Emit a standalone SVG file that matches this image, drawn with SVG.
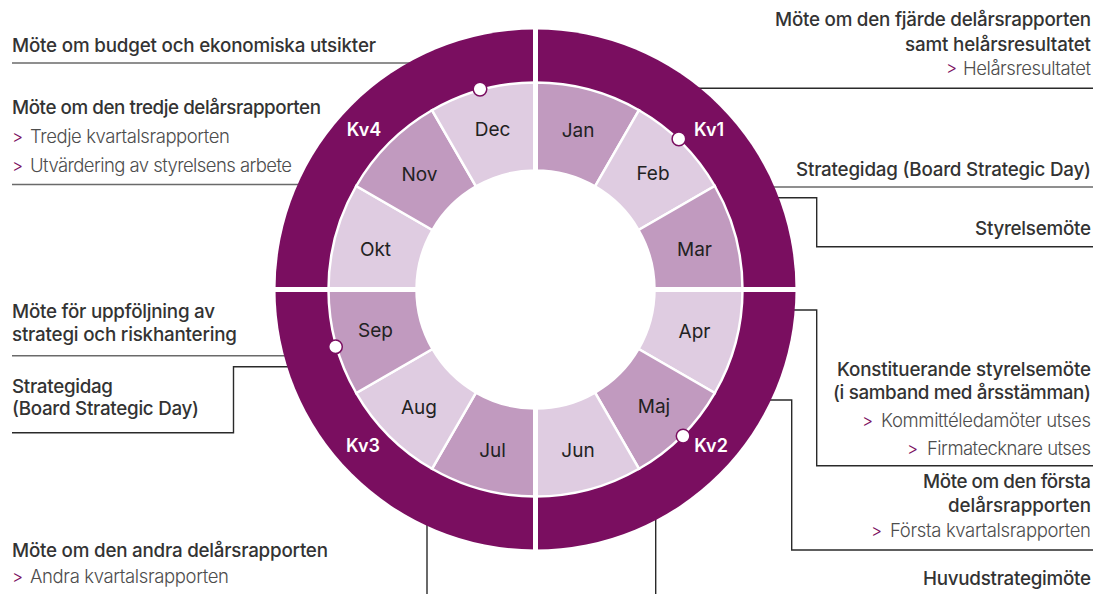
<svg xmlns="http://www.w3.org/2000/svg" width="1095" height="594" viewBox="0 0 1095 594">
<style>
text { font-family: Inter, "Liberation Sans", Arial, sans-serif; }
.h { font-size: 18.8px; font-weight: 500; fill: #333333; }
.s { font-size: 18.5px; font-weight: 300; fill: #4d4d4d; }
.ch { font-size: 17px; font-weight: 300; fill: #7a0e60; }
.r { text-anchor: end; }
.m { font-size: 19px; font-weight: 400; fill: #222222; text-anchor: middle; }
.kv { font-size: 18px; font-weight: 600; fill: #ffffff; text-anchor: middle; }
.gl { fill: none; stroke: #6a6a6a; stroke-width: 1.4; }
.dl { fill: none; stroke: #2a2a2a; stroke-width: 1.4; }
.md { fill: #c19abf; stroke: #ffffff; stroke-width: 2.5; stroke-linejoin: miter; }
.ml { fill: #dfcce1; stroke: #ffffff; stroke-width: 2.5; stroke-linejoin: miter; }
.dot { fill: #ffffff; stroke: #7a0e60; stroke-width: 1.5; }
</style>
<rect x="0" y="0" width="1095" height="594" fill="#ffffff"/>

<g id="connectors">
  <path class="gl" d="M12 63 H412"/>
  <path class="gl" d="M12 184.5 H300"/>
  <path class="gl" d="M12 355.7 H290"/>
  <path class="dl" d="M292 366.7 H233.5 V432.7 H12"/>
  <path class="dl" d="M427 515 V594"/>
  <path class="dl" d="M655.7 510 V594"/>
  <path class="dl" d="M690 88.3 H1093"/>
  <path class="gl" d="M765 187 H1093"/>
  <path class="dl" d="M770 197.7 H816.7 V246.7 H1093"/>
  <path class="dl" d="M785 310 H816.7 V465.7 H1093"/>
  <path class="dl" d="M760 400 H791.7 V550 H1093"/>
</g>

<g id="wheel">
  <circle cx="535.5" cy="289.5" r="260" fill="#7a0e60"/>
  <circle cx="535.5" cy="289.5" r="120" fill="#ffffff"/>
  <g id="month-jan"><path class="md" d="M535.5 82.5 A207 207 0 0 1 639 110.23 L595 186.44 A119 119 0 0 0 535.5 170.5 Z"/><text class="m" x="578" y="137">Jan</text></g>
  <g id="month-feb"><path class="ml" d="M639 110.23 A207 207 0 0 1 714.77 186 L638.56 230 A119 119 0 0 0 595 186.44 Z"/><text class="m" x="653" y="180">Feb</text></g>
  <g id="month-mar"><path class="md" d="M714.77 186 A207 207 0 0 1 742.5 289.5 L654.5 289.5 A119 119 0 0 0 638.56 230 Z"/><text class="m" x="694.5" y="255.5">Mar</text></g>
  <g id="month-apr"><path class="ml" d="M742.5 289.5 A207 207 0 0 1 714.77 393 L638.56 349 A119 119 0 0 0 654.5 289.5 Z"/><text class="m" x="694.5" y="338">Apr</text></g>
  <g id="month-maj"><path class="md" d="M714.77 393 A207 207 0 0 1 639 468.77 L595 392.56 A119 119 0 0 0 638.56 349 Z"/><text class="m" x="654" y="413">Maj</text></g>
  <g id="month-jun"><path class="ml" d="M639 468.77 A207 207 0 0 1 535.5 496.5 L535.5 408.5 A119 119 0 0 0 595 392.56 Z"/><text class="m" x="578" y="456.5">Jun</text></g>
  <g id="month-jul"><path class="md" d="M535.5 496.5 A207 207 0 0 1 432 468.77 L476 392.56 A119 119 0 0 0 535.5 408.5 Z"/><text class="m" x="492.5" y="456.5">Jul</text></g>
  <g id="month-aug"><path class="ml" d="M432 468.77 A207 207 0 0 1 356.23 393 L432.44 349 A119 119 0 0 0 476 392.56 Z"/><text class="m" x="419" y="414">Aug</text></g>
  <g id="month-sep"><path class="md" d="M356.23 393 A207 207 0 0 1 328.5 289.5 L416.5 289.5 A119 119 0 0 0 432.44 349 Z"/><text class="m" x="375.5" y="337">Sep</text></g>
  <g id="month-okt"><path class="ml" d="M328.5 289.5 A207 207 0 0 1 356.23 186 L432.44 230 A119 119 0 0 0 416.5 289.5 Z"/><text class="m" x="375.5" y="255.5">Okt</text></g>
  <g id="month-nov"><path class="md" d="M356.23 186 A207 207 0 0 1 432 110.23 L476 186.44 A119 119 0 0 0 432.44 230 Z"/><text class="m" x="419.5" y="180.5">Nov</text></g>
  <g id="month-dec"><path class="ml" d="M432 110.23 A207 207 0 0 1 535.5 82.5 L535.5 170.5 A119 119 0 0 0 476 186.44 Z"/><text class="m" x="492.5" y="136">Dec</text></g>
  <rect x="533" y="25" width="5" height="530" fill="#ffffff"/>
  <rect x="270" y="287" width="532" height="5" fill="#ffffff"/>
  <g id="kv1"><text class="kv" x="709" y="136">Kv1</text></g>
  <g id="kv2"><text class="kv" x="711" y="452">Kv2</text></g>
  <g id="kv3"><text class="kv" x="363" y="452">Kv3</text></g>
  <g id="kv4"><text class="kv" x="364" y="136">Kv4</text></g>
  <circle class="dot" cx="480" cy="89.1" r="6.8"/>
  <circle class="dot" cx="678.9" cy="138.9" r="6.8"/>
  <circle class="dot" cx="683.1" cy="436.1" r="6.8"/>
  <circle class="dot" cx="335.5" cy="346.8" r="6.8"/>
</g>

<g id="note-budget"><text class="h" x="12" y="52" textLength="364">Möte om budget och ekonomiska utsikter</text></g>
<g id="note-tredje">
  <text class="h" x="12" y="113.5" textLength="309">Möte om den tredje delårsrapporten</text>
  <text class="ch" x="12" y="143">&gt;</text>
  <text class="s" x="30" y="143.3" textLength="200">Tredje kvartalsrapporten</text>
  <text class="ch" x="12" y="171.5">&gt;</text>
  <text class="s" x="30" y="171.7" textLength="262">Utvärdering av styrelsens arbete</text>
</g>
<g id="note-uppfoljning">
  <text class="h" x="12" y="317.5" textLength="203">Möte för uppföljning av</text>
  <text class="h" x="12" y="341" textLength="225">strategi och riskhantering</text>
</g>
<g id="note-strategidag-left">
  <text class="h" x="12" y="392.5" textLength="101">Strategidag</text>
  <text class="h" x="12" y="414.5" textLength="187">(Board Strategic Day)</text>
</g>
<g id="note-andra">
  <text class="h" x="12" y="557.3" textLength="316">Möte om den andra delårsrapporten</text>
  <text class="ch" x="12" y="583">&gt;</text>
  <text class="s" x="30" y="583.3" textLength="199">Andra kvartalsrapporten</text>
</g>
<g id="note-fjarde">
  <text class="h r" x="1091" y="25.5" textLength="316">Möte om den fjärde delårsrapporten</text>
  <text class="h r" x="1091" y="50.5" textLength="186">samt helårsresultatet</text>
  <text class="ch" x="946" y="74">&gt;</text>
  <text class="s r" x="1091" y="74.5" textLength="128">Helårsresultatet</text>
</g>
<g id="note-strategidag-right"><text class="h r" x="1091" y="176" textLength="295">Strategidag (Board Strategic Day)</text></g>
<g id="note-styrelsemote"><text class="h r" x="1091" y="235" textLength="116">Styrelsemöte</text></g>
<g id="note-konstituerande">
  <text class="h r" x="1091" y="376" textLength="254">Konstituerande styrelsemöte</text>
  <text class="h r" x="1091" y="398.5" textLength="258">(i samband med årsstämman)</text>
  <text class="ch" x="862" y="427">&gt;</text>
  <text class="s r" x="1091" y="427" textLength="210">Kommittéledamöter utses</text>
  <text class="ch" x="907" y="455">&gt;</text>
  <text class="s r" x="1091" y="455" textLength="164">Firmatecknare utses</text>
</g>
<g id="note-forsta">
  <text class="h r" x="1091" y="488.3" textLength="168">Möte om den första</text>
  <text class="h r" x="1091" y="512" textLength="143">delårsrapporten</text>
  <text class="ch" x="871" y="537.3">&gt;</text>
  <text class="s r" x="1091" y="537.3" textLength="201">Första kvartalsrapporten</text>
</g>
<g id="note-huvudstrategi"><text class="h r" x="1091" y="585" textLength="168">Huvudstrategimöte</text></g>
</svg>
